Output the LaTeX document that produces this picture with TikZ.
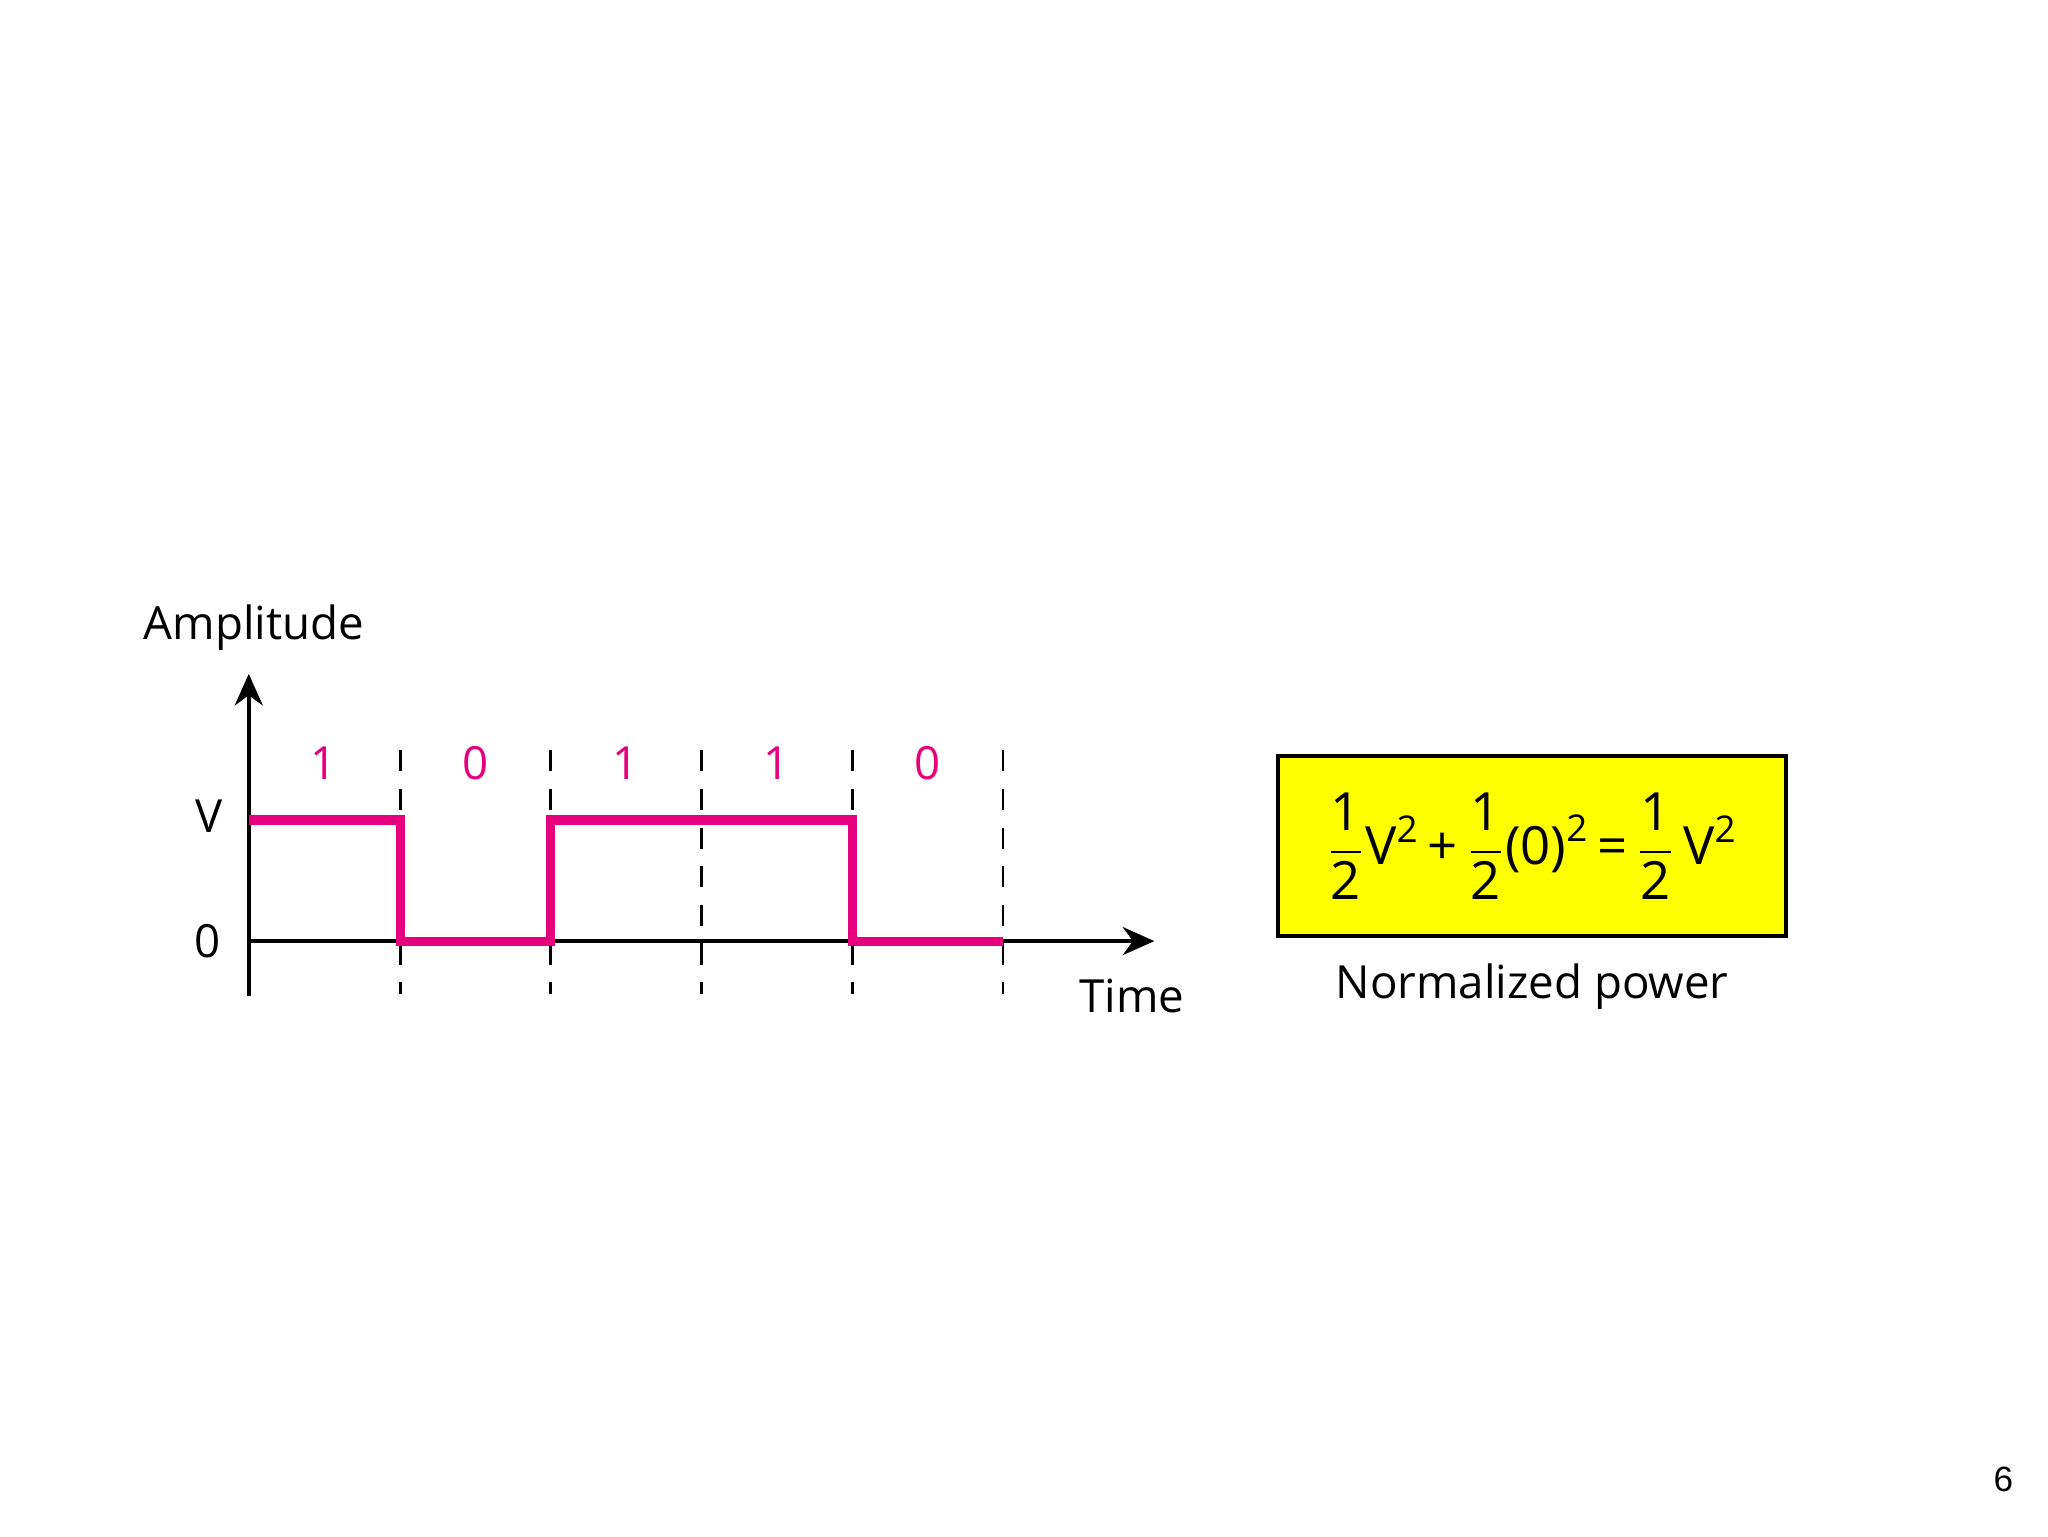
\documentclass[tikz,border=0pt]{standalone}
\usepackage{amsmath}
\usepackage{fontspec}
\setmainfont{Open Sans}
\usetikzlibrary{positioning, arrows.meta}
\definecolor{sigpink}{RGB}{230,0,126}
\definecolor{boxyellow}{RGB}{255,255,0}
\newcommand{\hf}{\dfrac{\text{1}}{\text{2}}}

\begin{document}
\begin{tikzpicture}[
    x=0.013162cm, y=-0.013162cm,
    lbl/.style={inner sep=0pt, font=\fontsize{13}{15}\selectfont},
    bit/.style={lbl, text=sigpink},
    grid/.style={dashed, dash pattern=on 6pt off 5pt, line width=0.8pt},
    sig/.style={sigpink, line width=2.6pt, line join=miter},
    ax/.style={line width=1pt, -{Stealth[length=9pt, width=8pt]}},
    ]
	\useasboundingbox (0,0) rectangle (1556,1167);
	% Axes
	\coordinate (O) at (189,715);
	\coordinate (ybot) at (189,757);
	\coordinate (ytop) at (189,512);
	\coordinate (xend) at (877,715);
	\draw[ax] (ybot) -- (ytop);
	\draw[ax] (O) -- (xend);
	\node[lbl] (amp) at (193,477) {Amplitude};
	\node[lbl] (time) at (860,757) {Time};
	\node[lbl] (vlev) at (159,620) {V};
	\node[lbl] (zlev) at (158,715) {0};

	% Bit boundaries
	\foreach \x in {304,418,533,648,762}
		\draw[grid] (\x,570) coordinate (t\x) -- (\x,755) coordinate (b\x);

	% Bit values
	\foreach \x/\b in {246/1, 361/0, 475/1, 590/1, 705/0}
		\node[bit] (bit\x) at (\x,580) {\b};

	% Signal
	\draw[sig] (189,623) -- (304,623) -- (304,715) -- (418,715) -- (418,623)
		-- (648,623) -- (648,715) -- (762,715);

	% Power box
	\node[draw, fill=boxyellow, line width=1.2pt, minimum width=5.08cm,
		minimum height=1.8cm, inner sep=0pt,
		font=\fontsize{15}{17}\selectfont] (power) at (1164,643)
		{$\hf\text{V}^{\text{2}}\,\text{+}\,\hf\text{(0)}^{\text{2}}\,\text{=}\,\hf\,\text{V}^{\text{2}}$};
	\node[lbl, below=0.25cm of power] (norm) {Normalized power};

	% Page number
	\node[inner sep=0pt, font=\fontspec{Liberation Sans}\fontsize{10}{12}\selectfont] (page) at (1522,1124) {6};
\end{tikzpicture}
\end{document}
